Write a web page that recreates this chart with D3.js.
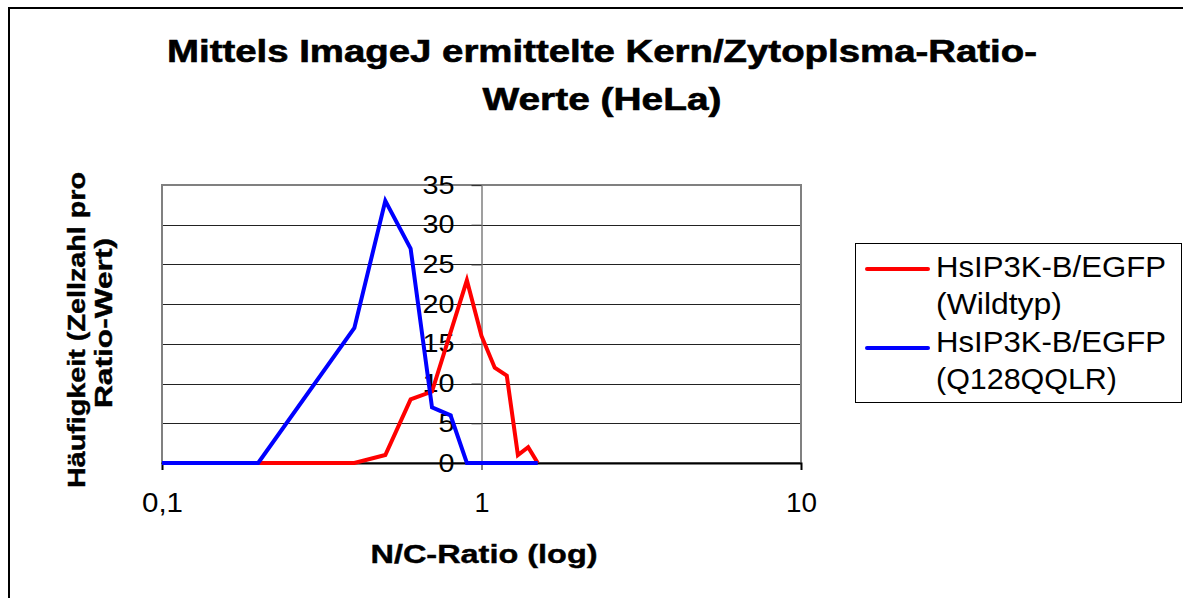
<!DOCTYPE html>
<html>
<head>
<meta charset="utf-8">
<script src="https://cdn.jsdelivr.net/npm/d3@7"></script>
<style>
  html, body { margin: 0; padding: 0; background: #fff; }
  svg { display: block; font-family: "Liberation Sans", Arial, sans-serif; }
</style>
</head>
<body>
<svg id="chart" width="1183" height="598"></svg>
<script>
// ---- data ----
const titleLines = ["Mittels ImageJ ermittelte Kern/Zytoplsma-Ratio-", "Werte (HeLa)"];
const yTitleLines = ["Häufigkeit (Zellzahl pro", "Ratio-Wert)"];
const xTitle = "N/C-Ratio (log)";
const xTicks = [0.1, 1, 10];
const xTickLabels = ["0,1", "1", "10"];
const yTicks = [0, 5, 10, 15, 20, 25, 30, 35];

const wildtypRatio = [0.1, 0.2, 0.4, 0.5, 0.6, 0.7, 0.9, 1.0, 1.1, 1.2, 1.3, 1.4, 1.5];
const wildtypCount = [0, 0, 0, 1, 8, 9, 23, 16, 12, 11, 1, 2, 0];

const mutantRatio = [0.1, 0.2, 0.4, 0.5, 0.6, 0.7, 0.8, 0.9, 1.0, 1.1, 1.2, 1.3, 1.4, 1.5];
const mutantCount = [0, 0, 17, 33, 27, 7, 6, 0, 0, 0, 0, 0, 0, 0];

const seriesNames = [["HsIP3K-B/EGFP", "(Wildtyp)"], ["HsIP3K-B/EGFP", "(Q128QQLR)"]];
const seriesColors = ["#ff0000", "#0000ff"];

// ---- layout ----
const svg = d3.select("#chart");
const plot = { left: 162, right: 801, top: 185, bottom: 463 };

const x = d3.scaleLog().domain([0.1, 10]).range([plot.left, plot.right]);
const y = d3.scaleLinear().domain([0, 35]).range([plot.bottom, plot.top]);

// outer chart border
svg.append("rect").attr("x", 9).attr("y", 8).attr("width", 1300).attr("height", 800)
  .attr("fill", "none").attr("stroke", "#000").attr("stroke-width", 2);

// title
svg.append("g").selectAll("text").data(titleLines).join("text")
  .attr("x", 602).attr("y", (d, i) => 62 + i * 48)
  .attr("text-anchor", "middle").attr("font-weight", "bold").attr("font-size", 31)
  .attr("stroke", "#000").attr("stroke-width", 0.6)
  .attr("textLength", (d, i) => [870, 239][i]).attr("lengthAdjust", "spacingAndGlyphs")
  .text(d => d);

// gridlines
svg.append("g").selectAll("line").data(yTicks.filter(v => v > 0 && v < 35)).join("line")
  .attr("x1", plot.left).attr("x2", plot.right)
  .attr("y1", d => Math.round(y(d)) + 0.5).attr("y2", d => Math.round(y(d)) + 0.5)
  .attr("stroke", "#222").attr("stroke-width", 1);

// plot border
svg.append("rect").attr("x", plot.left).attr("y", plot.top)
  .attr("width", plot.right - plot.left).attr("height", plot.bottom - plot.top)
  .attr("fill", "none").attr("stroke", "#808080").attr("stroke-width", 2);

// y axis at x = 1
const yAxis = svg.append("g").attr("transform", `translate(${x(1)},0)`)
  .call(d3.axisLeft(y).tickValues(yTicks).tickSize(10).tickPadding(17).tickFormat(d3.format("d")));
yAxis.select(".domain").attr("stroke", "#808080").attr("stroke-width", 1.5);
yAxis.selectAll(".tick line").attr("stroke", "#333");
yAxis.selectAll(".tick text").attr("font-size", 25).attr("fill", "#000")
  .attr("font-family", "'Liberation Sans', Arial, sans-serif")
  .attr("textLength", d => String(d).length * 16).attr("lengthAdjust", "spacingAndGlyphs");

// x axis
const xAxis = svg.append("g").attr("transform", `translate(0,${plot.bottom})`)
  .call(d3.axisBottom(x).tickValues(xTicks).tickSize(7).tickPadding(23)
    .tickFormat((d, i) => xTickLabels[i]));
xAxis.select(".domain").attr("stroke", "#000").attr("stroke-width", 2);
xAxis.selectAll(".tick line").attr("stroke", "#000");
xAxis.selectAll(".tick text").attr("font-size", 27).attr("fill", "#000")
  .attr("font-family", "'Liberation Sans', Arial, sans-serif")
  .attr("textLength", (d, i) => [41, 15, 31][i]).attr("lengthAdjust", "spacingAndGlyphs");

// axis titles
svg.append("text").attr("x", 484).attr("y", 563)
  .attr("text-anchor", "middle").attr("font-weight", "bold").attr("font-size", 25)
  .attr("stroke", "#000").attr("stroke-width", 0.4)
  .attr("textLength", 227).attr("lengthAdjust", "spacingAndGlyphs")
  .text(xTitle);

const yT = [[85, 330, 316], [112, 323, 170]];
svg.append("g").selectAll("text").data(yTitleLines).join("text")
  .attr("transform", (d, i) => `translate(${yT[i][0]},${yT[i][1]}) rotate(-90)`)
  .attr("text-anchor", "middle").attr("font-weight", "bold").attr("font-size", 24)
  .attr("stroke", "#000").attr("stroke-width", 0.4)
  .attr("textLength", (d, i) => yT[i][2]).attr("lengthAdjust", "spacingAndGlyphs")
  .text(d => d);

// series lines
const line = d3.line().x(d => x(d[0])).y(d => y(d[1]));
const series = [
  d3.zip(wildtypRatio, wildtypCount),
  d3.zip(mutantRatio, mutantCount)
];
svg.append("g").selectAll("path").data(series).join("path")
  .attr("d", line).attr("fill", "none")
  .attr("stroke", (d, i) => seriesColors[i]).attr("stroke-width", 4)
  .attr("stroke-linejoin", "miter");

// legend
const lg = svg.append("g");
lg.append("rect").attr("x", 855.5).attr("y", 243.5).attr("width", 326).attr("height", 159)
  .attr("fill", "#fff").attr("stroke", "#000").attr("stroke-width", 1);
const legendItems = lg.selectAll("g.item").data(seriesNames).join("g").attr("class", "item");
legendItems.append("line")
  .attr("x1", 867).attr("x2", 928)
  .attr("y1", (d, i) => 269 + i * 79).attr("y2", (d, i) => 269 + i * 79)
  .attr("stroke", (d, i) => seriesColors[i]).attr("stroke-width", 4).attr("stroke-linecap", "round");
const lw = [[230, 126], [230, 181]];
legendItems.each(function (d, i) {
  d3.select(this).selectAll("text").data(d).join("text")
    .attr("x", 936).attr("y", (t, j) => 277 + i * 75 + j * 37)
    .attr("font-size", 29)
    .attr("textLength", (t, j) => lw[i][j]).attr("lengthAdjust", "spacingAndGlyphs")
    .text(t => t);
});
</script>
</body>
</html>
